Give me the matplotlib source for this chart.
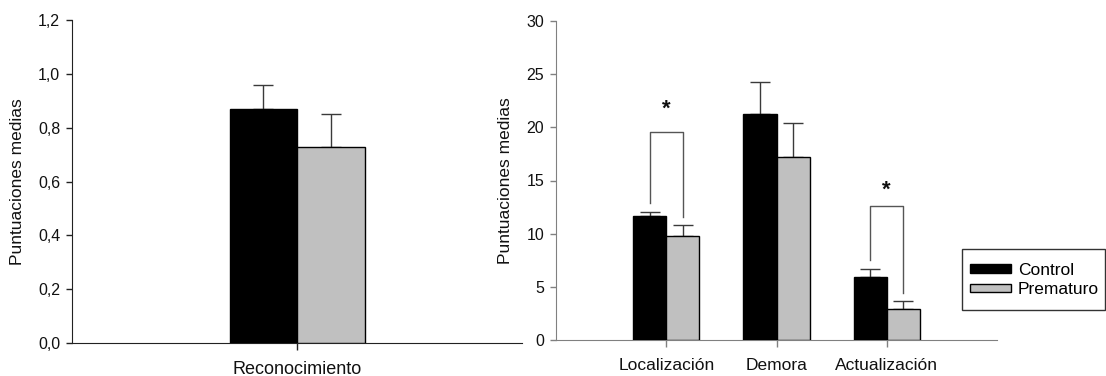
import matplotlib
matplotlib.use("Agg")
import matplotlib.pyplot as plt
import numpy as np
from matplotlib.patches import Patch, Rectangle

plt.rcParams['font.family'] = ['Liberation Sans', 'DejaVu Sans']

# Recognition task
left_categories = ["Reconocimiento"]
left_control = [0.87]
left_control_sem = [0.09]
left_premature = [0.73]
left_premature_sem = [0.12]
left_ticks = [0.0, 0.2, 0.4, 0.6, 0.8, 1.0, 1.2]

# Spatial working memory tasks
right_categories = ["Localización", "Demora", "Actualización"]
right_control = [11.7, 21.3, 5.9]
right_control_sem = [0.3, 3.0, 0.75]
right_premature = [9.8, 17.2, 2.9]
right_premature_sem = [1.05, 3.2, 0.8]
right_ticks = [0, 5, 10, 15, 20, 25, 30]

# Significant differences: category index, bracket height, star height
sig_index = [0, 2]
sig_bracket_top = [19.6, 12.6]
sig_star_y = [21.7, 14.1]

series_labels = ["Control", "Prematuro"]
control_color = "#000000"
premature_color = "#c0c0c0"
err_color = "#3a3a3a"
W = 0.3

LABEL_FS = 12.5
TICK_FS = 11.5

fig = plt.figure(figsize=(11.06, 3.76), dpi=100)
ax1 = fig.add_axes([72 / 1106, 33 / 376, 450 / 1106, 323 / 376])
ax2 = fig.add_axes([556 / 1106, 36 / 376, 441 / 1106, 319 / 376])


def draw_bars(ax, cats, ctrl, ctrl_e, prem, prem_e, xfs):
    x = np.arange(len(cats))
    ax.bar(x - W / 2, ctrl, W, color=control_color, edgecolor="black",
           linewidth=1.0, zorder=3)
    ax.bar(x + W / 2, prem, W, color=premature_color, edgecolor="black",
           linewidth=1.0, zorder=3)
    ax.errorbar(x - W / 2, ctrl, yerr=[np.zeros(len(x)), ctrl_e], fmt="none",
                ecolor=err_color, elinewidth=1.0, capsize=7, capthick=1.0,
                zorder=2)
    ax.errorbar(x + W / 2, prem, yerr=[np.zeros(len(x)), prem_e], fmt="none",
                ecolor=err_color, elinewidth=1.0, capsize=7, capthick=1.0,
                zorder=2)
    ax.set_xticks(x)
    ax.set_xticklabels(cats, fontsize=xfs, color="#111111")
    ax.set_xlim(-1, len(cats))
    for s in ("top", "right"):
        ax.spines[s].set_visible(False)
    ax.tick_params(axis="y", direction="out", length=4, width=1.0,
                   labelsize=TICK_FS, labelcolor="#111111", pad=4.5)
    ax.tick_params(axis="x", direction="out", length=5, width=1.0,
                   labelsize=xfs, labelcolor="#111111", pad=8)
    ax.set_ylabel("Puntuaciones medias", fontsize=LABEL_FS, color="#111111")


def comma(v, decimals):
    return f"{v:.{decimals}f}".replace(".", ",")


draw_bars(ax1, left_categories, left_control, left_control_sem,
          left_premature, left_premature_sem, 13)
ax1.set_ylim(0, 1.2)
ax1.set_yticks(left_ticks)
ax1.set_yticklabels([comma(t, 1) for t in left_ticks])
for s in ("left", "bottom"):
    ax1.spines[s].set_color("#222222")
ax1.tick_params(color="#222222")
ax1.yaxis.set_label_coords(-0.104, 0.5)

draw_bars(ax2, right_categories, right_control, right_control_sem,
          right_premature, right_premature_sem, LABEL_FS)
ax2.set_ylim(0, 30)
ax2.set_yticks(right_ticks)
ax2.set_yticklabels([str(t) for t in right_ticks])
for s in ("left", "bottom"):
    ax2.spines[s].set_color("#808080")
ax2.tick_params(color="#808080")
ax2.yaxis.set_label_coords(-0.0975, 0.5)

# Significance brackets
gap = 0.9
for i, top, star_y in zip(sig_index, sig_bracket_top, sig_star_y):
    xl, xr = i - W / 2, i + W / 2
    yl = right_control[i] + right_control_sem[i] + gap
    yr = right_premature[i] + right_premature_sem[i] + gap * 0.8
    ax2.plot([xl, xl, xr, xr], [yl, top, top, yr], color="#555555",
             linewidth=1.0, zorder=4)
    ax2.text(i, star_y, "*", ha="center", va="center", fontsize=16,
             fontweight="bold", color="#111111")

# Legend: entries without their own frame, boxed by a plain rectangle
handles = [Patch(facecolor=control_color, edgecolor="black", linewidth=1.0),
           Patch(facecolor=premature_color, edgecolor="black", linewidth=1.0)]
fig.legend(handles, series_labels, loc="center left",
           bbox_to_anchor=(970 / 1106, 1 - 280 / 376), fontsize=LABEL_FS,
           frameon=False, handlelength=2.35, handleheight=0.4,
           handletextpad=0.4, borderpad=0, labelspacing=0.25,
           borderaxespad=0)
fig.add_artist(Rectangle((962 / 1106, 1 - 310 / 376), 143 / 1106, 61 / 376,
                         transform=fig.transFigure, facecolor="none",
                         edgecolor="#333333", linewidth=1.0))

fig.savefig("out.png", dpi=100)
